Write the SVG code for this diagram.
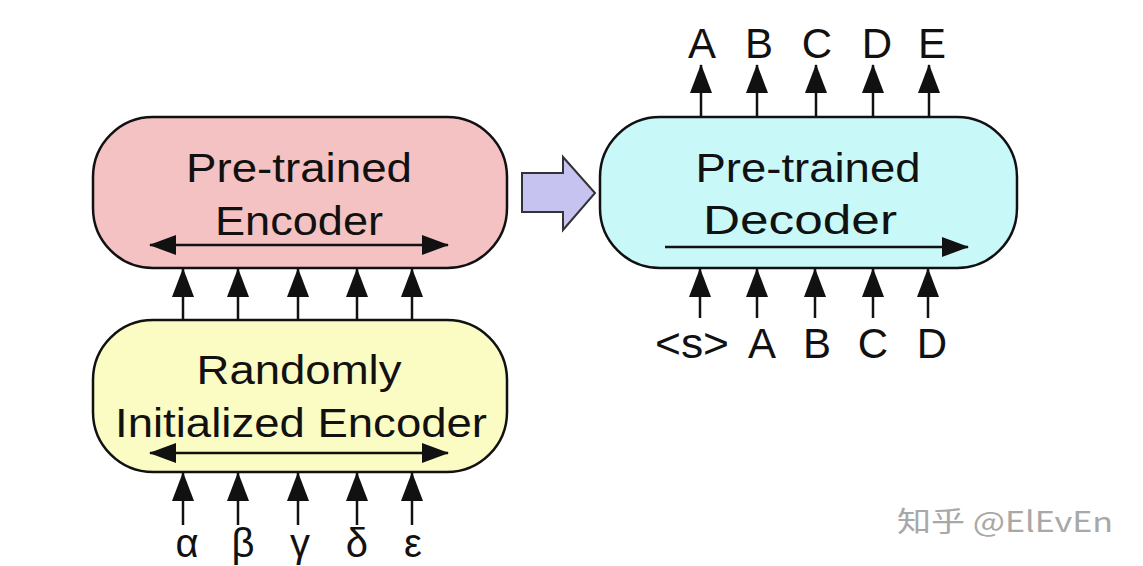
<svg xmlns="http://www.w3.org/2000/svg" width="1143" height="566" viewBox="0 0 1143 566">
<style>
.box{stroke:#111;stroke-width:2.5}
.t{font-family:"Liberation Sans",Arial,Helvetica,sans-serif;fill:#111;text-anchor:middle}
.big{font-size:40px}
.lbl{font-size:42px}
.gr{font-size:40px}
.ln{stroke:#111;stroke-width:2.5;fill:none}
.v{marker-end:url(#ah)}
.h{marker-end:url(#ah2)}
.hb{marker-start:url(#ah2);marker-end:url(#ah2)}
</style>
<defs>
<marker id="ah" markerUnits="userSpaceOnUse" viewBox="0 0 29 22" markerWidth="29" markerHeight="22" refX="28" refY="11" orient="auto-start-reverse"><path d="M0,0 L29,11 L0,22 z" fill="#111"/></marker>
<marker id="ah2" markerUnits="userSpaceOnUse" viewBox="0 0 27 20" markerWidth="27" markerHeight="20" refX="26" refY="10" orient="auto-start-reverse"><path d="M0,0 L27,10 L0,20 z" fill="#111"/></marker>
</defs>
<rect width="1143" height="566" fill="#fff"/>

<g id="pretrained-encoder">
<rect class="box" x="93" y="117" width="414" height="151" rx="60" fill="#f4c2c2"/>
<text class="t big" x="299" y="182" textLength="226" lengthAdjust="spacingAndGlyphs">Pre-trained</text>
<text class="t big" x="299" y="235" textLength="168" lengthAdjust="spacingAndGlyphs">Encoder</text>
</g>

<g id="random-encoder">
<rect class="box" x="93" y="320" width="414" height="152" rx="60" fill="#fbfbc4"/>
<text class="t big" x="299" y="384" textLength="205" lengthAdjust="spacingAndGlyphs">Randomly</text>
<text class="t big" x="301" y="437" textLength="372" lengthAdjust="spacingAndGlyphs">Initialized Encoder</text>
</g>

<g id="pretrained-decoder">
<rect class="box" x="600" y="117" width="417" height="151" rx="60" fill="#c9f8f9"/>
<text class="t big" x="808" y="182" textLength="225" lengthAdjust="spacingAndGlyphs">Pre-trained</text>
<text class="t big" x="800" y="234" textLength="194" lengthAdjust="spacingAndGlyphs">Decoder</text>
</g>

<g id="transfer-arrow">
<path d="M522,173 L563,173 L563,157 L595,193 L563,230 L563,212 L522,212 z" fill="#c6c3f1" stroke="#333" stroke-width="2"/>
</g>

<g id="labels">
<text class="t gr" x="187" y="557">α</text>
<text class="t gr" x="243" y="557">β</text>
<text class="t gr" x="300" y="557">γ</text>
<text class="t gr" x="357" y="557">δ</text>
<text class="t gr" x="413" y="557">ε</text>
<text class="t lbl" x="702" y="58">A</text>
<text class="t lbl" x="759" y="58">B</text>
<text class="t lbl" x="817" y="58">C</text>
<text class="t lbl" x="877" y="58">D</text>
<text class="t lbl" x="932" y="58">E</text>
<text class="t lbl" x="692" y="358" textLength="74" lengthAdjust="spacingAndGlyphs">&lt;s&gt;</text>
<text class="t lbl" x="762" y="358">A</text>
<text class="t lbl" x="817" y="358">B</text>
<text class="t lbl" x="873" y="358">C</text>
<text class="t lbl" x="932" y="358">D</text>
</g>

<g id="connectors">
<path class="ln hb" d="M150,245 H448"/>
<path class="ln hb" d="M150,453 H448"/>
<path class="ln h" d="M665,247 H968"/>
<path class="ln v" d="M183,320 V269"/>
<path class="ln v" d="M238,320 V269"/>
<path class="ln v" d="M298,320 V269"/>
<path class="ln v" d="M357,320 V269"/>
<path class="ln v" d="M412,320 V269"/>
<path class="ln v" d="M183,525 V473"/>
<path class="ln v" d="M238,525 V473"/>
<path class="ln v" d="M298,525 V473"/>
<path class="ln v" d="M357,525 V473"/>
<path class="ln v" d="M412,525 V473"/>
<path class="ln v" d="M701,117 V65"/>
<path class="ln v" d="M757,117 V65"/>
<path class="ln v" d="M816,117 V65"/>
<path class="ln v" d="M873,117 V65"/>
<path class="ln v" d="M929,117 V65"/>
<path class="ln v" d="M700,318 V269"/>
<path class="ln v" d="M757,318 V269"/>
<path class="ln v" d="M815,318 V269"/>
<path class="ln v" d="M873,318 V269"/>
<path class="ln v" d="M928,318 V269"/>
</g>

<g id="watermark">
<text x="897" y="532" font-family="'Noto Sans CJK SC','Liberation Sans',sans-serif" font-size="28" fill="#a8a8a8" textLength="216" lengthAdjust="spacingAndGlyphs">知乎 @ElEvEn</text>
</g>
</svg>
